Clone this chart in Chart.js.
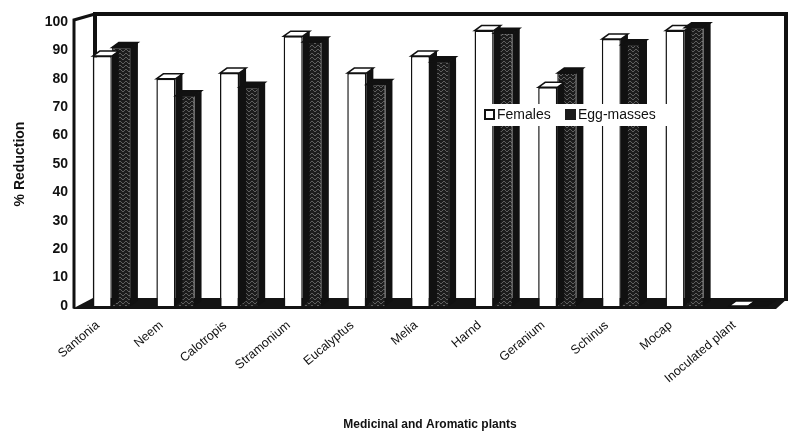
<!DOCTYPE html>
<html>
<head>
<meta charset="utf-8">
<script src="https://cdn.jsdelivr.net/npm/chart.js@4.4.1/dist/chart.umd.min.js"></script>
<style>
  body { margin: 0; background: #fff; }
  #wrap { position: relative; width: 794px; height: 438px; }
</style>
</head>
<body>
<div id="wrap"><canvas id="chart" width="794" height="438"></canvas></div>
<script>
// data
const plants = ['Santonia', 'Neem', 'Calotropis', 'Stramonium', 'Eucalyptus', 'Melia', 'Harnd', 'Geranium', 'Schinus', 'Mocap', 'Inoculated plant'];
const females = [88, 80, 82, 95, 82, 88, 97, 77, 94, 97, 0];
const eggMasses = [91, 74, 77, 93, 78, 86, 96, 82, 92, 98, 0];
const yTicks = [0, 10, 20, 30, 40, 50, 60, 70, 80, 90, 100];

// dark hatched fill for the egg-mass bars
function makeHatch() {
    const c = document.createElement('canvas');
    c.width = 6; c.height = 8;
    const g = c.getContext('2d');
    g.fillStyle = '#1c1c1c';
    g.fillRect(0, 0, 6, 8);
    g.strokeStyle = '#5e5e5e';
    g.lineWidth = 1;
    g.beginPath();
    g.moveTo(0, 1); g.lineTo(3, 4); g.lineTo(6, 1);
    g.moveTo(0, 5); g.lineTo(3, 8); g.lineTo(6, 5);
    g.stroke();
    return g.createPattern(c, 'repeat');
}

const ctx = document.getElementById('chart').getContext('2d');
const hatch = makeHatch();
const DX = 7, DY = 5;

// back wall, side wall and floor drawn behind the bars
const framePlugin = {
    id: 'frame',
    beforeDatasetsDraw(chart) {
        const a = chart.chartArea;
        const c = chart.ctx;
        c.save();
        c.strokeStyle = '#111';
        c.lineWidth = 4;
        c.beginPath();
        c.moveTo(a.left + DX + 8, a.bottom - DY);
        c.lineTo(a.left + DX + 8, a.top - 8);
        c.lineTo(a.right + 6, a.top - 8);
        c.lineTo(a.right + 6, a.bottom - DY);
        c.stroke();
        // left side wall
        c.lineWidth = 3;
        c.beginPath();
        c.moveTo(a.left - 6, a.bottom + 2);
        c.lineTo(a.left - 6, a.top - 2);
        c.lineTo(a.left + DX + 8, a.top - 8);
        c.stroke();
        // floor
        c.fillStyle = '#141414';
        c.beginPath();
        c.moveTo(a.left - 8, a.bottom + 3);
        c.lineTo(a.right - 4, a.bottom + 3);
        c.lineTo(a.right + 8, a.bottom - DY - 3);
        c.lineTo(a.left + DX + 6, a.bottom - DY - 3);
        c.closePath();
        c.fill();
        c.restore();
    },
    afterDatasetsDraw(chart) {
        const c = chart.ctx;
        c.save();
        chart.data.datasets.forEach((ds, i) => {
            const meta = chart.getDatasetMeta(i);
            meta.data.forEach(bar => {
                const half = bar.width / 2;
                const l = bar.x - half, r = bar.x + half, t = bar.y, b = bar.base;
                // top cap
                c.beginPath();
                c.moveTo(l, t);
                c.lineTo(l + DX, t - DY);
                c.lineTo(r + DX, t - DY);
                c.lineTo(r, t);
                c.closePath();
                c.fillStyle = i === 0 ? '#fff' : '#111';
                c.fill();
                c.strokeStyle = '#111';
                c.lineWidth = 1.5;
                c.stroke();
                // side
                c.beginPath();
                c.moveTo(r, t);
                c.lineTo(r + DX, t - DY);
                c.lineTo(r + DX, b - DY);
                c.lineTo(r, b);
                c.closePath();
                c.fillStyle = '#111';
                c.fill();
            });
        });
        c.restore();
    },
    afterDraw(chart) {
        // legend box inside the plot
        const c = chart.ctx;
        c.save();
        c.fillStyle = '#fff';
        c.fillRect(482, 104, 188, 22);
        c.font = '14px Arial, "Liberation Sans", sans-serif';
        c.textBaseline = 'middle';
        c.strokeStyle = '#111';
        c.lineWidth = 2;
        c.fillStyle = '#fff';
        c.fillRect(485, 110, 9, 9);
        c.strokeRect(485, 110, 9, 9);
        c.fillStyle = '#111';
        c.fillText(chart.data.datasets[0].label, 497, 115);
        c.fillStyle = '#1c1c1c';
        c.fillRect(565, 109, 11, 11);
        c.fillStyle = '#111';
        c.fillText(chart.data.datasets[1].label, 578, 115);
        c.restore();
    }
};

new Chart(ctx, {
    type: 'bar',
    data: {
        labels: plants,
        datasets: [
            {
                label: 'Females',
                data: females,
                backgroundColor: '#ffffff',
                borderColor: '#111',
                borderWidth: 1.5,
                borderSkipped: 'bottom',
                barPercentage: 1.0,
                categoryPercentage: 0.6
            },
            {
                label: 'Egg-masses',
                data: eggMasses,
                backgroundColor: hatch,
                borderColor: '#111',
                borderWidth: 1,
                borderSkipped: 'bottom',
                barPercentage: 1.0,
                categoryPercentage: 0.6
            }
        ]
    },
    options: {
        responsive: false,
        devicePixelRatio: 1,
        animation: false,
        layout: { padding: { top: 22, right: 14, left: 0, bottom: 0 } },
        plugins: {
            legend: { display: false },
            tooltip: { enabled: false }
        },
        scales: {
            y: {
                min: 0,
                max: 100,
                afterBuildTicks(scale) {
                    scale.ticks = yTicks.map(v => ({ value: v }));
                },
                afterFit(scale) { scale.width = 80; },
                grid: { display: false },
                border: { display: false },
                ticks: {
                    color: '#111',
                    padding: 4,
                    font: { family: 'Arial, "Liberation Sans", sans-serif', size: 14, weight: 'bold' }
                },
                title: {
                    display: true,
                    text: '% Reduction',
                    color: '#111',
                    padding: { top: 12, bottom: 0 },
                    font: { family: 'Arial, "Liberation Sans", sans-serif', size: 14, weight: 'bold' }
                }
            },
            x: {
                afterFit(scale) { scale.height = 132; },
                grid: { display: false, drawTicks: true },
                border: { display: false },
                ticks: {
                    color: '#111',
                    minRotation: 40,
                    maxRotation: 40,
                    padding: 4,
                    labelOffset: -14,
                    font: { family: 'Arial, "Liberation Sans", sans-serif', size: 12.5 }
                },
                title: {
                    display: true,
                    text: 'Medicinal and Aromatic plants',
                    color: '#111',
                    padding: { bottom: 6 },
                    font: { family: 'Arial, "Liberation Sans", sans-serif', size: 12, weight: 'bold' }
                }
            }
        }
    },
    plugins: [framePlugin]
});
</script>
</body>
</html>
